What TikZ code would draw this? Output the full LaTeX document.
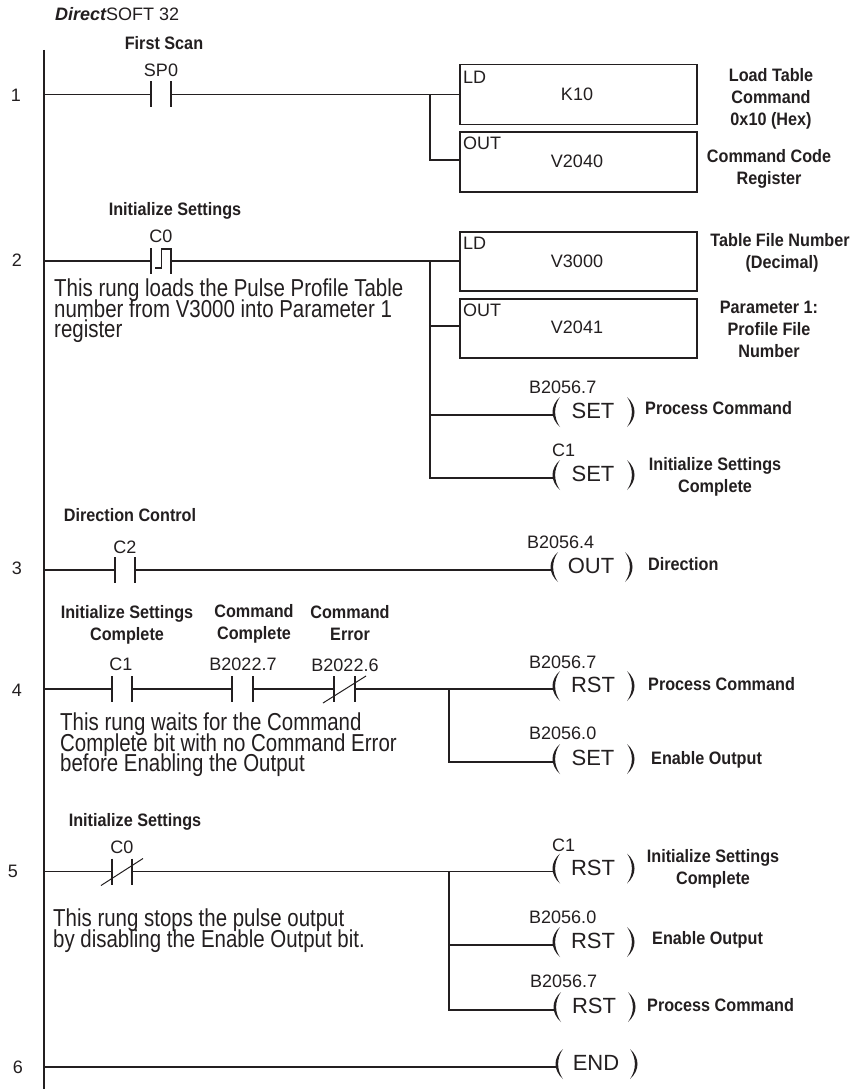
\documentclass[tikz,border=0pt]{standalone}
\usepackage{fontspec}
\setmainfont{Liberation Sans}
\newfontfamily\lblfam{Liberation Sans}[FakeStretch=0.9]
\newfontfamily\cmtfam{Liberation Sans}[FakeStretch=0.835]
\definecolor{ink}{HTML}{231F20}
\lineskiplimit=-100pt
\tikzset{
  wire/.style={draw=ink,line width=1.3pt,line cap=butt},
  rail/.style={draw=ink,line width=1.5pt},
  instbox/.style={draw=ink,line width=1.5pt,fill=white},
  small/.style={text=ink,inner sep=0pt,font=\fontsize{18}{20}\selectfont},
  lbl/.style={text=ink,inner sep=0pt,align=center,font=\lblfam\bfseries\fontsize{18}{22}\selectfont},
  cmt/.style={text=ink,inner sep=0pt,anchor=west,align=left,font=\cmtfam\fontsize{24.5}{20.6}\selectfont},
  coiltext/.style={text=ink,inner sep=0pt,font=\fontsize{22}{24}\selectfont},
}
% contact: name, x left bar, x right bar, wire y
\newcommand{\contactNO}[4]{%
  \coordinate (#1-l) at (#2,#4);\coordinate (#1-r) at (#3,#4);
  \draw[wire] (#2,#4-13) -- (#2,#4+13) (#3,#4-13) -- (#3,#4+13);}
\newcommand{\contactNC}[4]{%
  \contactNO{#1}{#2}{#3}{#4}
  \draw[wire,line width=1pt] (#2-11,#4+14) -- (#3+11,#4-13);}
% coil: name, x of left paren, wire y, text
\newcommand{\coil}[4]{%
  \coordinate (#1-l) at (#2+1,#3);
  \fill[ink] (#2+8,#3-18) .. controls (#2-2,#3-9) and (#2-2,#3+3) .. (#2+8,#3+12)
     .. controls (#2+1.5,#3+3) and (#2+1.5,#3-9) .. cycle;
  \fill[ink] (#2+75,#3-18) .. controls (#2+85,#3-9) and (#2+85,#3+3) .. (#2+75,#3+12)
     .. controls (#2+81.5,#3+3) and (#2+81.5,#3-9) .. cycle;
  \node[coiltext] (#1) at (#2+41,#3-4) {#4};}
\begin{document}
\begin{tikzpicture}[x=1pt,y=-1pt]
\useasboundingbox[fill=white] (0,0) rectangle (859,1089);
% title
\node[small,anchor=west] (title) at (55,14) {{\bfseries\itshape Direct}SOFT 32};
% rail
\coordinate (railtop) at (44,50); \coordinate (railbot) at (44,1089);
\draw[rail] (railtop) -- (railbot);
\foreach \n/\xx/\yy in {1/16/95,2/17/260,3/17/568,4/17/690,5/13/871,6/18/1067}
  \node[small] (num\n) at (\xx,\yy) {\n};
\coordinate (r1) at (44,94.5); \coordinate (r2) at (44,261); \coordinate (r3) at (44,570);
\coordinate (r4) at (44,689); \coordinate (r5) at (44,871.5); \coordinate (r6) at (44,1067);
% rung 1
\node[lbl] (l1) at (164,43) {First Scan};
\node[small] (sp0) at (161,70) {SP0};
\contactNO{k1}{151}{171}{94.5}
\coordinate (j1) at (430,94.5); \coordinate (j1b) at (430,160);
\node[instbox,minimum width=237pt,minimum height=60pt,inner sep=0pt,anchor=north west] (b1) at (459,64) {};
\node[instbox,minimum width=237pt,minimum height=59.5pt,inner sep=0pt,anchor=north west] (b2) at (459,131.5) {};
\node[small,anchor=west] (b1t) at (463,77) {LD};
\node[small] (b1v) at (577,94) {K10};
\node[small,anchor=west] (b2t) at (463,143) {OUT};
\node[small] (b2v) at (577,161) {V2040};
\draw[wire] (r1) -- (k1-l) (k1-r) -- (j1) -- (j1b) -- (b2.west |- j1b);
\draw[wire] (j1) -- (b1.west |- j1);
\node[lbl] (l2) at (771,99) {Load Table\\Command\\0x10 (Hex)};
\node[lbl] (l3) at (769,169) {Command Code\\Register};
% rung 2
\node[lbl] (l4) at (175,211) {Initialize Settings};
\node[small] (c0a) at (161,236) {C0};
\contactNO{k2}{151}{171}{261}
\draw[wire,line width=1.1pt] (155,268) -- (161.5,268) -- (161.5,249) -- (171,249);
\node[cmt] (cm1) at (54,311) {This rung loads the Pulse Profile Table\\number from V3000 into Parameter 1\\register};
\coordinate (j2) at (430,261); \coordinate (j2b) at (430,326); \coordinate (j2c) at (430,415); \coordinate (j2d) at (430,478);
\node[instbox,minimum width=237pt,minimum height=59pt,inner sep=0pt,anchor=north west] (b3) at (459,231) {};
\node[instbox,minimum width=237pt,minimum height=59pt,inner sep=0pt,anchor=north west] (b4) at (459,298) {};
\node[small,anchor=west] (b3t) at (463,243) {LD};
\node[small] (b3v) at (577,261) {V3000};
\node[small,anchor=west] (b4t) at (463,310) {OUT};
\node[small] (b4v) at (577,327) {V2041};
\coil{c21}{552}{415}{SET}
\coil{c22}{552}{478}{SET}
\draw[wire] (r2) -- (k2-l) (k2-r) -- (j2) -- (j2d) -- (c22-l);
\draw[wire] (j2) -- (b3.west |- j2) (j2b) -- (b4.west |- j2b) (j2c) -- (c21-l);
\node[lbl] (l5) at (780,253) {Table File Number\\\hspace*{4pt}(Decimal)};
\node[lbl] (l6) at (769,329) {Parameter 1:\\Profile File\\Number};
\node[small,anchor=west] (a21) at (529,387) {B2056.7};
\node[small,anchor=west] (a22) at (552,450) {C1};
\node[lbl,anchor=west] (l7) at (645,408) {Process Command};
\node[lbl] (l8) at (715,477) {Initialize Settings\\Complete};
% rung 3
\node[lbl] (l9) at (130,515) {Direction Control};
\node[small] (c2a) at (125,547) {C2};
\contactNO{k3}{115}{135}{570}
\coil{c31}{550}{570}{OUT}
\draw[wire] (r3) -- (k3-l) (k3-r) -- (c31-l);
\node[small,anchor=west] (a31) at (527,542) {B2056.4};
\node[lbl,anchor=west] (l10) at (648,564) {Direction};
% rung 4
\node[lbl] (l11) at (127,625) {Initialize Settings\\Complete};
\node[lbl] (l12) at (254,624) {Command\\Complete};
\node[lbl] (l13) at (350,623.5) {Command\\Error};
\node[small] (c1a) at (121,664) {C1};
\node[small] (b227) at (243,664) {B2022.7};
\node[small] (b226) at (345,665) {B2022.6};
\contactNO{k41}{112}{132}{689}
\contactNO{k42}{232}{253}{689}
\contactNC{k43}{334}{355}{689}
\coordinate (j4) at (449,689); \coordinate (j4b) at (449,762);
\coil{c41}{552}{689}{RST}
\coil{c42}{552}{762}{SET}
\draw[wire] (r4) -- (k41-l) (k41-r) -- (k42-l) (k42-r) -- (k43-l) (k43-r) -- (c41-l);
\draw[wire] (j4) -- (j4b) -- (c42-l);
\node[cmt] (cm2) at (60,745) {This rung waits for the Command\\Complete bit with no Command Error\\before Enabling the Output};
\node[small,anchor=west] (a41) at (529,662) {B2056.7};
\node[small,anchor=west] (a42) at (529,733) {B2056.0};
\node[lbl,anchor=west] (l14) at (648,684) {Process Command};
\node[lbl,anchor=west] (l15) at (651,760) {Enable Output};
% rung 5
\node[lbl] (l16) at (135,822) {Initialize Settings};
\node[small] (c0b) at (122,847) {C0};
\contactNC{k5}{112}{132}{871.5}
\coordinate (j5) at (449,871.5); \coordinate (j5b) at (449,945); \coordinate (j5c) at (449,1010);
\coil{c51}{552}{871.5}{RST}
\coil{c52}{552}{945}{RST}
\coil{c53}{553}{1010}{RST}
\draw[wire] (r5) -- (k5-l) (k5-r) -- (c51-l);
\draw[wire] (j5) -- (j5c) -- (c53-l) (j5b) -- (c52-l);
\node[cmt] (cm3) at (53,930.5) {This rung stops the pulse output\\by disabling the Enable Output bit.};
\node[small,anchor=west] (a51) at (552,845) {C1};
\node[small,anchor=west] (a52) at (529,917) {B2056.0};
\node[small,anchor=west] (a53) at (530,981) {B2056.7};
\node[lbl] (l17) at (713,869) {Initialize Settings\\Complete};
\node[lbl,anchor=west] (l18) at (652,940) {Enable Output};
\node[lbl,anchor=west] (l19) at (647,1005) {Process Command};
% rung 6
\coil{c61}{555}{1067}{END}
\draw[wire] (r6) -- (c61-l);
\end{tikzpicture}
\end{document}
